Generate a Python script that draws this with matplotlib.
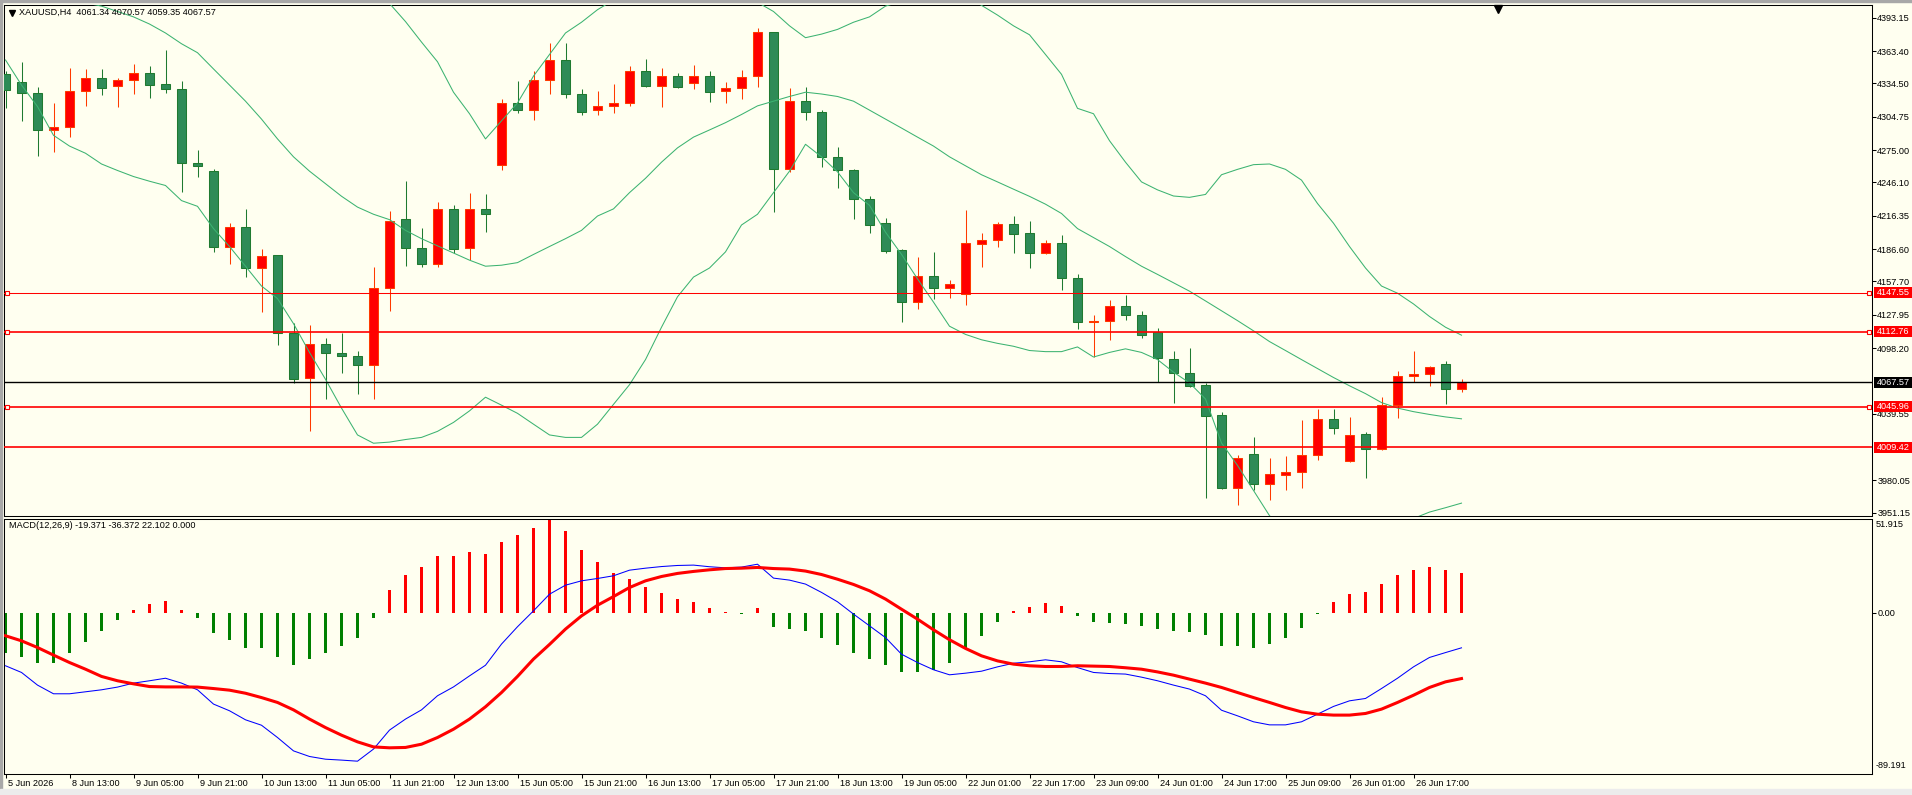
import numpy as np
import matplotlib
matplotlib.use("Agg")
import matplotlib.pyplot as plt
from matplotlib.patches import Rectangle
from matplotlib.lines import Line2D
from matplotlib import transforms

plt.rcParams['font.family'] = ['Liberation Sans', 'DejaVu Sans']

# ---- data (XAUUSD H4) ----
opens = [4343.4, 4335.4, 4326.4, 4293.0, 4295.9, 4328.0, 4339.8, 4332.4, 4337.6, 4344.3,
         4333.8, 4329.9, 4263.6, 4256.2, 4188.9, 4206.2, 4169.3, 4180.9, 4112.0, 4071.6,
         4102.0, 4093.7, 4091.1, 4083.1, 4152.0, 4213.2, 4187.3, 4173.5, 4222.2, 4187.3,
         4222.2, 4261.6, 4317.4, 4311.0, 4337.9, 4355.9, 4325.1, 4310.7, 4314.5, 4317.1,
         4345.9, 4332.2, 4341.4, 4335.0, 4341.4, 4327.6, 4330.5, 4340.8, 4380.2, 4257.8,
         4319.0, 4309.1, 4268.7, 4257.2, 4231.2, 4209.7, 4185.4, 4139.2, 4162.9, 4151.4,
         4146.9, 4191.5, 4194.3, 4208.7, 4200.8, 4183.4, 4192.4, 4161.0, 4121.3, 4122.2,
         4136.0, 4128.0, 4112.3, 4088.6, 4075.8, 4065.2, 4038.3, 3972.9, 4004.0, 3976.4,
         3985.1, 3987.9, 4002.4, 4034.7, 3996.9, 4021.3, 4007.8, 4046.9, 4073.2, 4075.1,
         4084.1, 4061.34]
highs = [4345.9, 4353.9, 4331.8, 4317.4, 4348.2, 4347.2, 4347.2, 4339.8, 4352.3, 4349.8,
         4364.8, 4337.0, 4275.4, 4258.1, 4210.0, 4222.5, 4186.6, 4181.5, 4120.6, 4118.4,
         4106.8, 4112.0, 4096.0, 4170.3, 4220.6, 4247.2, 4205.6, 4228.3, 4225.8, 4237.0,
         4236.0, 4320.9, 4336.3, 4345.9, 4370.6, 4370.6, 4329.3, 4327.4, 4334.4, 4349.8,
         4356.2, 4348.2, 4344.3, 4350.7, 4345.3, 4336.0, 4346.3, 4384.1, 4380.6, 4330.2,
         4331.2, 4311.0, 4278.0, 4258.4, 4234.1, 4214.2, 4186.6, 4179.3, 4183.8, 4158.8,
         4221.6, 4201.1, 4210.7, 4216.1, 4211.6, 4194.7, 4199.2, 4164.2, 4127.4, 4140.8,
         4145.3, 4131.5, 4115.8, 4095.9, 4098.2, 4066.8, 4040.8, 4003.0, 4018.4, 4000.4,
         4001.4, 4034.1, 4044.0, 4044.0, 4036.7, 4023.2, 4054.3, 4078.0, 4096.0, 4082.5,
         4086.7, 4070.57]
lows = [4312.9, 4301.1, 4269.6, 4273.2, 4286.6, 4314.8, 4324.1, 4313.6, 4325.1, 4321.6,
        4326.1, 4237.6, 4250.7, 4184.1, 4172.9, 4161.7, 4130.6, 4101.1, 4067.1, 4023.8,
        4052.7, 4075.8, 4056.8, 4052.7, 4131.2, 4171.6, 4170.3, 4170.3, 4183.1, 4177.0,
        4202.0, 4257.1, 4308.1, 4301.7, 4325.1, 4321.3, 4306.8, 4306.5, 4308.1, 4314.5,
        4331.5, 4313.6, 4330.5, 4329.3, 4317.7, 4316.8, 4320.6, 4331.5, 4219.3, 4255.6,
        4301.7, 4259.7, 4240.8, 4213.9, 4201.4, 4183.1, 4121.3, 4133.1, 4142.1, 4143.1,
        4136.7, 4170.6, 4188.6, 4183.4, 4170.0, 4182.5, 4150.1, 4115.2, 4090.5, 4105.2,
        4123.2, 4107.2, 4067.8, 4049.5, 4063.0, 3963.9, 3972.0, 3958.1, 3971.6, 3962.6,
        3971.0, 3973.5, 3998.2, 4021.3, 3996.5, 3982.2, 4006.9, 4035.7, 4067.8, 4063.9,
        4047.9, 4059.35]
closes = [4329.0, 4326.1, 4292.7, 4295.3, 4328.0, 4339.8, 4330.6, 4337.9, 4344.3, 4333.1,
          4329.9, 4263.6, 4260.4, 4188.9, 4206.2, 4169.3, 4180.2, 4112.0, 4070.6, 4102.0,
          4094.0, 4091.1, 4083.1, 4152.0, 4211.3, 4187.3, 4173.5, 4222.2, 4186.3, 4222.2,
          4217.7, 4317.4, 4310.4, 4337.9, 4355.9, 4325.1, 4309.1, 4314.5, 4316.8, 4345.9,
          4332.2, 4341.4, 4331.2, 4341.4, 4327.0, 4330.9, 4340.5, 4380.9, 4257.8, 4319.0,
          4309.1, 4268.7, 4256.8, 4230.9, 4208.4, 4185.0, 4139.2, 4162.9, 4152.0, 4155.6,
          4191.8, 4194.3, 4208.8, 4200.4, 4183.4, 4192.4, 4161.0, 4121.3, 4122.5, 4136.0,
          4127.7, 4109.7, 4089.5, 4075.8, 4063.9, 4037.9, 3972.9, 4000.4, 3976.4, 3986.0,
          3987.6, 4002.4, 4034.7, 4026.7, 4020.3, 4007.8, 4046.9, 4073.2, 4074.8, 4081.5,
          4061.7, 4067.57]

bb_upper = [4500, 4513, 4522, 4538, 4540, 4542, 4545, 4541, 4537, 4528,
            4516, 4510, 4499, 4490, 4477, 4466, 4452, 4428, 4418, 4418,
            4420, 4423, 4428, 4422, 4406, 4389.8, 4371.5, 4353.9, 4326.7, 4307.5,
            4285.0, 4301.1, 4317.1, 4341.1, 4360.4, 4379.6, 4389.2, 4400.4, 4409, 4411,
            4412, 4412, 4411, 4412, 4415, 4414, 4410, 4407, 4398.8, 4386.0,
            4375.4, 4378.6, 4382.8, 4389.2, 4394.0, 4403.6, 4408, 4413, 4418, 4420,
            4412, 4404.3, 4395.6, 4386.0, 4378.0, 4360.4, 4342.7, 4312.3, 4307.5, 4283.4,
            4264.2, 4246.6, 4239.5, 4234.0, 4232.8, 4235.4, 4253.0, 4257.8, 4262.0, 4262.6,
            4257.8, 4248.2, 4227.3, 4209.7, 4188.9, 4169.7, 4153.6, 4147.2, 4137.6, 4126.4,
            4116.8, 4109.7]
bb_mid = [4428, 4423, 4418, 4413, 4409, 4406.5, 4403.6, 4398.8, 4394.0, 4387.6,
          4379.6, 4370.0, 4362.0, 4347.5, 4333.1, 4318.7, 4302.7, 4285.0, 4269.0, 4256.2,
          4245.0, 4233.8, 4224.1, 4217.7, 4212.9, 4203.3, 4195.9, 4189.5, 4183.1, 4176.7,
          4171.3, 4172.2, 4174.5, 4181.8, 4188.9, 4195.9, 4203.3, 4216.1, 4222.5, 4237.0,
          4249.8, 4264.2, 4277.0, 4286.6, 4293.0, 4299.5, 4306.8, 4314.5, 4318.7, 4322.9,
          4326.7, 4325.1, 4322.9, 4318.7, 4310.7, 4302.7, 4294.7, 4286.6, 4278.6, 4269.0,
          4261.0, 4253.0, 4246.6, 4240.1, 4233.7, 4226.7, 4218.4, 4204.9, 4196.9, 4188.9,
          4179.9, 4171.3, 4164.0, 4156.5, 4149.0, 4140.3, 4131.5, 4122.7, 4113.6, 4104.0,
          4096.0, 4087.9, 4079.9, 4071.9, 4064.5, 4057.5, 4049.5, 4044.6, 4041.4, 4038.9,
          4036.7, 4035.0]
bb_lower = [4355.5, 4333.1, 4313.9, 4288.2, 4278.6, 4272.2, 4262.6, 4256.8, 4251.4, 4247.2,
            4243.4, 4229.9, 4224.8, 4204.9, 4188.9, 4171.3, 4153.6, 4142.4, 4120.0, 4094.3,
            4070.3, 4044.6, 4020.6, 4013.2, 4014.2, 4016.5, 4018.4, 4023.8, 4031.8, 4042.1,
            4054.3, 4047.2, 4039.9, 4030.2, 4020.6, 4018.4, 4018.4, 4030.2, 4047.9, 4065.5,
            4087.9, 4116.8, 4144.0, 4161.6, 4169.7, 4184.1, 4208.1, 4217.7, 4237.0, 4256.2,
            4280.2, 4269.0, 4255.6, 4237.0, 4225.7, 4201.7, 4181.9, 4160.0, 4139.2, 4117.7,
            4110.4, 4105.6, 4102.4, 4099.8, 4096.0, 4095.0, 4095.0, 4099.2, 4090.2, 4094.3,
            4097.5, 4094.3, 4087.9, 4076.7, 4067.1, 4052.7, 4013.4, 3993.4, 3971.0, 3948.5,
            3934.0, 3928.0, 3932.0, 3934.0, 3940.0, 3944.0, 3945.0, 3943.0, 3946.0, 3951.7,
            3955.6, 3959.7]

macd_main = [-29.3, -33.0, -40.0, -44.8, -44.8, -43.7, -42.6, -41.1, -38.9, -37.6,
             -36.2, -38.9, -42.6, -50.5, -54.2, -59.2, -62.2, -69.0, -76.4, -79.5,
             -81.0, -81.5, -82.1, -75.4, -64.9, -58.8, -53.7, -45.9, -41.0, -34.9,
             -29.0, -17.3, -7.7, 1.1, 10.3, 15.3, 17.7, 19.0, 20.5, 23.6,
             24.7, 25.6, 26.2, 26.4, 25.5, 24.9, 25.3, 26.9, 19.2, 18.1,
             15.9, 11.3, 6.1, -0.7, -7.2, -13.7, -22.9, -27.5, -31.5, -34.3,
             -33.4, -32.3, -29.9, -27.9, -27.1, -26.0, -27.1, -30.3, -33.0, -33.6,
             -33.9, -35.6, -37.6, -40.0, -42.2, -45.9, -53.9, -57.0, -60.3, -62.0,
             -62.0, -60.3, -56.1, -51.8, -48.7, -47.4, -41.9, -36.2, -29.9, -24.7,
             -22.0, -19.371]
macd_signal = [-12.7, -15.5, -19.2, -23.4, -27.5, -31.2, -35.2, -37.6, -39.3, -40.8,
               -41.0, -41.0, -41.1, -41.9, -42.8, -44.5, -46.9, -49.6, -53.7, -58.8,
               -63.5, -67.7, -71.4, -74.2, -74.7, -74.5, -72.7, -69.0, -64.4, -58.8,
               -52.0, -44.1, -35.2, -25.6, -17.5, -9.0, -1.7, 4.2, 9.0, 14.0,
               17.7, 20.1, 21.8, 22.9, 23.8, 24.5, 24.7, 25.1, 24.5, 24.2,
               23.1, 21.2, 18.6, 15.7, 12.2, 7.6, 2.0, -3.5, -9.4, -14.9,
               -19.7, -23.8, -26.6, -28.4, -29.3, -29.7, -29.7, -29.3, -29.5, -29.7,
               -30.4, -31.2, -32.7, -34.5, -36.7, -38.9, -41.3, -44.1, -46.9, -49.6,
               -52.4, -54.8, -56.1, -56.6, -56.6, -55.7, -53.3, -49.6, -45.6, -41.3,
               -38.2, -36.372]
macd_hist = [-22.0, -24.7, -28.0, -27.5, -22.5, -15.9, -9.8, -3.7, 1.7, 5.0,
             6.6, 1.7, -2.6, -11.4, -14.8, -19.7, -19.7, -24.2, -28.6, -25.8,
             -22.5, -18.1, -13.7, -2.6, 12.4, 21.0, 25.1, 31.5, 31.5, 33.4,
             32.8, 39.0, 43.0, 47.0, 51.915, 45.0, 34.9, 28.2, 22.0, 18.6,
             14.2, 10.9, 7.9, 6.1, 2.8, 0.6, -0.4, 2.8, -7.6, -8.7,
             -10.0, -14.2, -17.7, -22.0, -25.8, -29.1, -33.0, -32.5, -31.4, -27.7,
             -19.6, -12.7, -5.0, 1.1, 3.3, 5.5, 3.9, -1.5, -5.0, -5.5,
             -6.1, -7.2, -8.9, -10.0, -10.5, -12.2, -18.1, -18.6, -19.4, -17.2,
             -13.8, -8.3, -0.4, 6.1, 10.5, 11.6, 16.0, 21.0, 23.8, 25.5,
             23.8, 22.102]

levels_red = [4147.55, 4112.76, 4045.96, 4009.42]
levels_marked = [4147.55, 4112.76, 4045.96]
level_bid = 4067.57
price_ticks = [4393.15, 4363.40, 4334.50, 4304.75, 4275.00, 4246.10, 4216.35, 4186.60,
               4157.70, 4127.95, 4098.20, 4039.55, 3980.05, 3951.15]
time_labels = ['5 Jun 2026', '8 Jun 13:00', '9 Jun 05:00', '9 Jun 21:00', '10 Jun 13:00',
               '11 Jun 05:00', '11 Jun 21:00', '12 Jun 13:00', '15 Jun 05:00', '15 Jun 21:00',
               '16 Jun 13:00', '17 Jun 05:00', '17 Jun 21:00', '18 Jun 13:00', '19 Jun 05:00',
               '22 Jun 01:00', '22 Jun 17:00', '23 Jun 09:00', '24 Jun 01:00', '24 Jun 17:00',
               '25 Jun 09:00', '26 Jun 01:00', '26 Jun 17:00']

# ---- layout ----
W, H = 1912, 795
BG = '#fffff0'
FS = 6.6
UP, UP_EDGE = '#ff0000', '#ff3a00'
DN, DN_EDGE = '#2e8b57', '#1f7a30'
BAND = '#3cb371'

def fx(px):
    return px / W

def fy(py):
    return 1 - py / H

fig = plt.figure(figsize=(W / 100, H / 100), dpi=100, facecolor=BG)
ax = fig.add_axes([fx(4), fy(516), fx(1872 - 4), (516 - 5) / H], facecolor=BG)
ax2 = fig.add_axes([fx(4), fy(774), fx(1872 - 4), (774 - 519) / H], facecolor=BG)

xl = ((4 - 5.5) / 16, (1872 - 5.5) / 16)
ylo, yhi = 3948.2, 4404.6
for a in (ax, ax2):
    a.set_xlim(*xl)
    for s in a.spines.values():
        s.set_color('black')
        s.set_linewidth(0.75)
ax.set_ylim(ylo, yhi)
ax2.set_ylim(-89.191, 51.915)

o, h, l, c = map(np.array, (opens, highs, lows, closes))
x = np.arange(len(o))
up = c >= o

# candles
ax.vlines(x[up], l[up], h[up], color=UP_EDGE, lw=0.75, zorder=2)
ax.vlines(x[~up], l[~up], h[~up], color=DN_EDGE, lw=0.75, zorder=2)
lo = np.minimum(o, c)
ht = np.maximum(np.abs(c - o), 0.3)
ax.bar(x[up], ht[up], bottom=lo[up], width=0.62, color=UP, edgecolor=UP_EDGE, linewidth=0.75, zorder=3)
ax.bar(x[~up], ht[~up], bottom=lo[~up], width=0.62, color=DN, edgecolor=DN_EDGE, linewidth=0.75, zorder=3)

# bollinger bands
for band in (bb_upper, bb_mid, bb_lower):
    ax.plot(x, band, color=BAND, lw=0.75, zorder=4)

# horizontal levels
for lv in levels_red:
    lw = 0.75 if lv == 4147.55 else 1.2
    ax.axhline(lv, color='red', lw=lw, zorder=5)
ax.axhline(level_bid, color='black', lw=1.0, zorder=5)
for lv in levels_marked:
    ax.plot([(7 - 5.5) / 16, (1868.5 - 5.5) / 16], [lv, lv], ls='none', marker='s', ms=3.2,
            mfc=BG, mec='red', mew=0.8, clip_on=False, zorder=6)

# right price axis
ax.yaxis.tick_right()
ax.set_yticks(price_ticks)
ax.set_yticklabels([f'{v:.2f}' for v in price_ticks])
ax.tick_params(axis='y', direction='out', length=2.8, width=0.75, pad=1.0, labelsize=FS, colors='black')
ax.set_xticks([])

ppx = (yhi - ylo) / 511
tr = transforms.blended_transform_factory(fig.transFigure, ax.transData)
for lv, col in [(v, 'red') for v in levels_red] + [(level_bid, 'black')]:
    ax.add_patch(Rectangle((fx(1874), lv - 5.5 * ppx), fx(1912 - 1874), 11 * ppx, transform=tr,
                           facecolor=col, edgecolor='none', clip_on=False, zorder=10))
    ax.text(fx(1877), lv, f'{lv:.2f}', transform=tr, color='white', fontsize=FS,
            va='center', ha='left', clip_on=False, zorder=11)

# chart shift marker and header
ax.plot([(1498 - 5.5) / 16], [yhi - 3.5 * ppx], marker='v', color='black', ms=5.5, clip_on=False, zorder=10)
fig.add_artist(Line2D([fx(11.7)], [fy(12.8)], marker='v', ms=4, color='black', transform=fig.transFigure))
fig.text(fx(19), fy(12.8), f'XAUUSD,H4  {opens[-1]:.2f} {highs[-1]:.2f} {lows[-1]:.2f} {closes[-1]:.2f}',
         fontsize=FS, va='center', ha='left', color='black')

# MACD panel
hist = np.array(macd_hist)
ax2.bar(x, hist, width=0.13, color=np.where(hist > 0, '#ff0000', '#008000'), linewidth=0, zorder=2)
ax2.plot(x, macd_main, color='#0000ff', lw=0.75, zorder=3)
ax2.plot(x, macd_signal, color='#ff0000', lw=2.2, zorder=4)
ax2.yaxis.tick_right()
ax2.set_yticks([0])
ax2.set_yticklabels(['0.00'])
ax2.tick_params(axis='y', direction='out', length=2.8, width=0.75, pad=1.0, labelsize=FS)
fig.text(fx(1876), fy(524.5), '51.915', fontsize=FS, va='center', ha='left')
fig.text(fx(1876), fy(765.5), '-89.191', fontsize=FS, va='center', ha='left')
fig.text(fx(9), fy(526), f'MACD(12,26,9) {macd_main[-1]:.3f} {macd_signal[-1]:.3f} {macd_hist[-1]:.3f} 0.000',
         fontsize=FS, va='center', ha='left')

ax2.set_xticks(x[::4])
ax2.set_xticklabels(time_labels)
ax2.tick_params(axis='x', direction='out', length=2.8, width=0.75, pad=0.8, labelsize=FS)
shift = transforms.ScaledTranslation(2 / 100, 0, fig.dpi_scale_trans)
for lab in ax2.get_xticklabels():
    lab.set_horizontalalignment('left')
    lab.set_transform(lab.get_transform() + shift)

# window frame
fig.add_artist(Rectangle((0, fy(2)), 1, 2 / H, transform=fig.transFigure, color='#a8a8a8', zorder=20))
fig.add_artist(Rectangle((0, 0), fx(2), 1, transform=fig.transFigure, color='#a8a8a8', zorder=20))
fig.add_artist(Rectangle((0, 0), 1, 6 / H, transform=fig.transFigure, color='#ececec', zorder=20))

fig.savefig('out.png', dpi=100, facecolor=BG)
